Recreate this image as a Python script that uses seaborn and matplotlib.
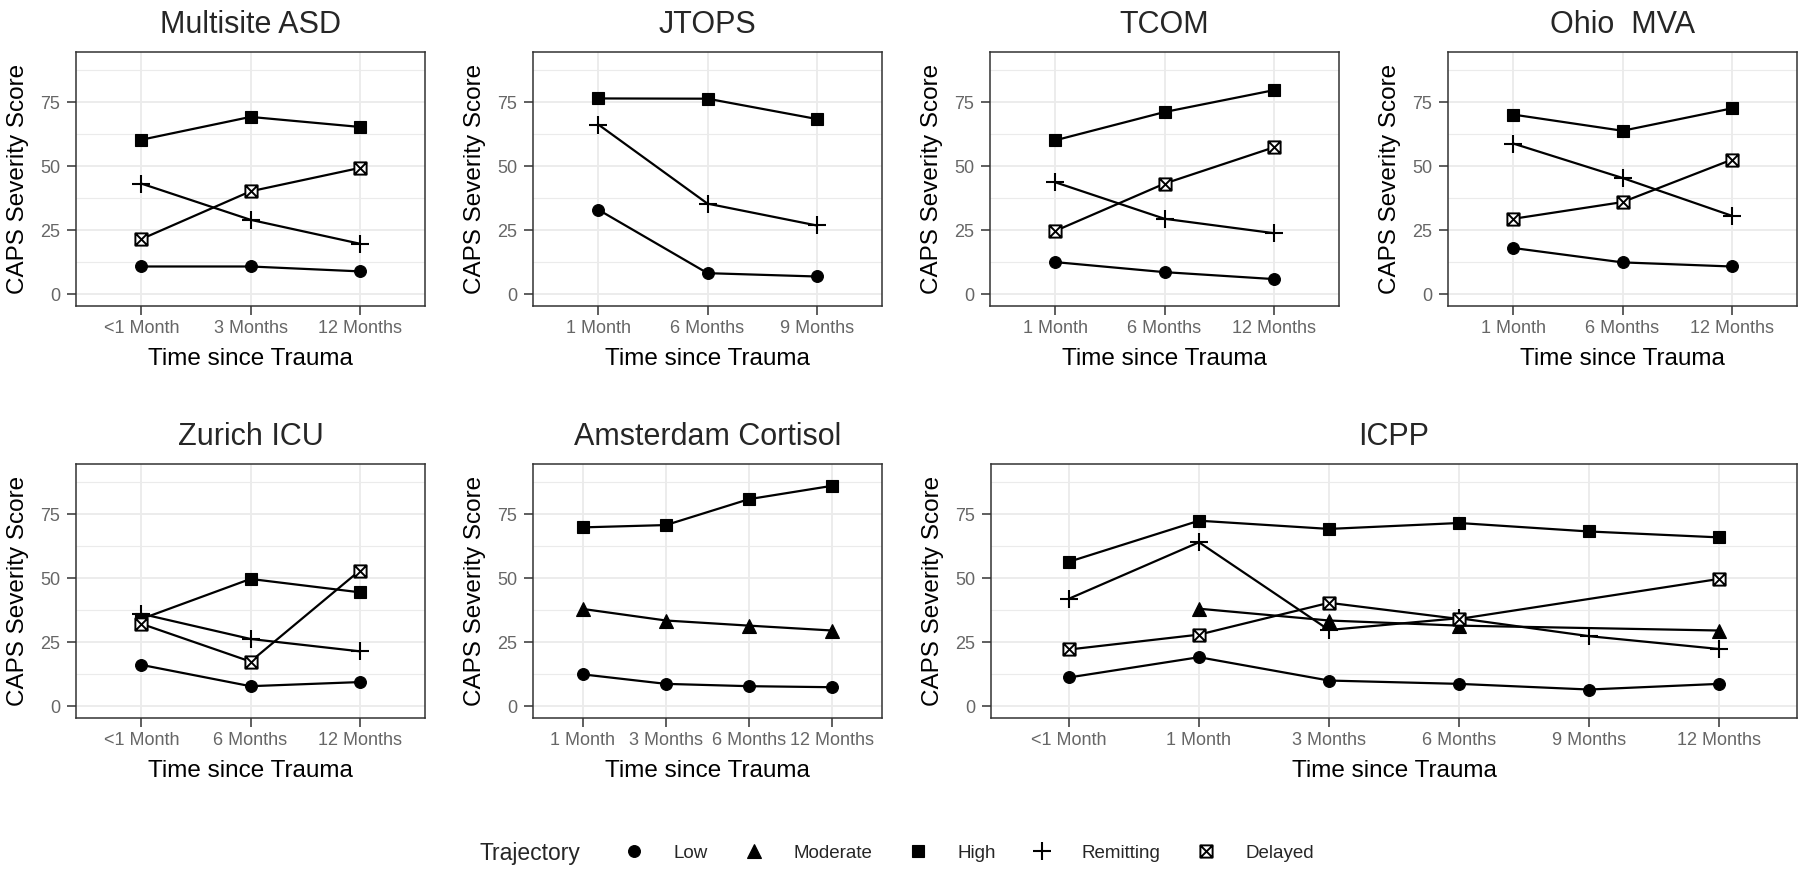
import numpy as np
import pandas as pd
import matplotlib.pyplot as plt
from matplotlib.path import Path
from matplotlib.lines import Line2D
import seaborn as sns

nan = np.nan
trajectories = ["Low", "Moderate", "High", "Remitting", "Delayed"]

# Multisite ASD
asd_times = ["<1 Month", "3 Months", "12 Months"]
asd_low = [10.9, 10.9, 9.0]
asd_high = [60.3, 69.2, 65.3]
asd_remit = [43.2, 29.1, 19.8]
asd_delayed = [21.6, 40.2, 49.3]

# JTOPS
jtops_times = ["1 Month", "6 Months", "9 Months"]
jtops_low = [33.0, 8.3, 7.0]
jtops_high = [76.4, 76.3, 68.4]
jtops_remit = [66.2, 35.4, 26.9]

# TCOM
tcom_times = ["1 Month", "6 Months", "12 Months"]
tcom_low = [12.6, 8.7, 6.0]
tcom_high = [60.1, 71.1, 79.6]
tcom_remit = [43.7, 29.5, 23.9]
tcom_delayed = [24.8, 43.2, 57.3]

# Ohio MVA
ohio_times = ["1 Month", "6 Months", "12 Months"]
ohio_low = [18.1, 12.5, 10.9]
ohio_high = [70.1, 63.8, 72.5]
ohio_remit = [58.8, 45.4, 30.7]
ohio_delayed = [29.5, 36.0, 52.5]

# Zurich ICU
zurich_times = ["<1 Month", "6 Months", "12 Months"]
zurich_low = [16.2, 7.9, 9.5]
zurich_high = [34.1, 49.7, 44.5]
zurich_remit = [36.1, 26.3, 21.5]
zurich_delayed = [32.2, 17.5, 52.9]

# Amsterdam Cortisol
ams_times = ["1 Month", "3 Months", "6 Months", "12 Months"]
ams_low = [12.5, 8.8, 7.9, 7.5]
ams_moderate = [38.0, 33.5, 31.5, 29.6]
ams_high = [69.8, 70.7, 80.8, 86.0]

# ICPP
icpp_times = ["<1 Month", "1 Month", "3 Months", "6 Months", "9 Months", "12 Months"]
icpp_low = [11.3, 19.2, 10.1, 8.8, 6.6, 8.8]
icpp_moderate = [nan, 38.1, 33.5, 31.5, nan, 29.6]
icpp_high = [56.4, 72.4, 69.2, 71.5, 68.2, 65.9]
icpp_remit = [42.0, 64.0, 29.8, 34.4, 27.4, 22.4]
icpp_delayed = [22.2, 28.0, 40.4, 34.1, nan, 49.7]

studies = [
    ("Multisite ASD", asd_times, {"Low": asd_low, "High": asd_high, "Remitting": asd_remit, "Delayed": asd_delayed}),
    ("JTOPS", jtops_times, {"Low": jtops_low, "High": jtops_high, "Remitting": jtops_remit}),
    ("TCOM", tcom_times, {"Low": tcom_low, "High": tcom_high, "Remitting": tcom_remit, "Delayed": tcom_delayed}),
    ("Ohio  MVA", ohio_times, {"Low": ohio_low, "High": ohio_high, "Remitting": ohio_remit, "Delayed": ohio_delayed}),
    ("Zurich ICU", zurich_times, {"Low": zurich_low, "High": zurich_high, "Remitting": zurich_remit, "Delayed": zurich_delayed}),
    ("Amsterdam Cortisol", ams_times, {"Low": ams_low, "Moderate": ams_moderate, "High": ams_high}),
    ("ICPP", icpp_times, {"Low": icpp_low, "Moderate": icpp_moderate, "High": icpp_high,
                          "Remitting": icpp_remit, "Delayed": icpp_delayed}),
]

sns.set_style("whitegrid")
plt.rcParams["font.family"] = ["Liberation Sans", "DejaVu Sans"]

# square with an X inside (ggplot shape 7)
box_x = Path([(-1, -1), (1, -1), (1, 1), (-1, 1), (-1, -1), (-1, -1), (1, 1), (-1, 1), (1, -1)],
             [Path.MOVETO, Path.LINETO, Path.LINETO, Path.LINETO, Path.CLOSEPOLY,
              Path.MOVETO, Path.LINETO, Path.MOVETO, Path.LINETO])

marker_style = {
    "Low": dict(marker="o", markersize=8.5, markerfacecolor="black", markeredgecolor="black", markeredgewidth=0.8),
    "Moderate": dict(marker="^", markersize=9.5, markerfacecolor="black", markeredgecolor="black", markeredgewidth=0.8),
    "High": dict(marker="s", markersize=8.7, markerfacecolor="black", markeredgecolor="black", markeredgewidth=0.8),
    "Remitting": dict(marker="+", markersize=12.5, markerfacecolor="black", markeredgecolor="black", markeredgewidth=1.5),
    "Delayed": dict(marker=box_x, markersize=8.8, markerfacecolor="white", markeredgecolor="black", markeredgewidth=1.4),
}

fig = plt.figure(figsize=(18, 8.71), dpi=100)

W = 349 / 1800
H = 254 / 871
positions = [
    (76 / 1800, 1 - 306 / 871, W, H),
    (533 / 1800, 1 - 306 / 871, W, H),
    (990 / 1800, 1 - 306 / 871, W, H),
    (1448 / 1800, 1 - 306 / 871, W, H),
    (76 / 1800, 1 - 718 / 871, W, H),
    (533 / 1800, 1 - 718 / 871, W, H),
    (991 / 1800, 1 - 718 / 871, 806 / 1800, H),
]

for (title, times, series), pos in zip(studies, positions):
    ax = fig.add_axes(pos)
    rows = []
    for traj, vals in series.items():
        for i, v in enumerate(vals):
            rows.append({"pos": i, "score": v, "Trajectory": traj})
    df = pd.DataFrame(rows).dropna()
    for traj in trajectories:
        sub = df[df["Trajectory"] == traj]
        if len(sub) == 0:
            continue
        sns.lineplot(data=sub, x="pos", y="score", color="black", linewidth=1.6,
                     errorbar=None, ax=ax, **marker_style[traj])

    ax.set_xlim(-0.6, len(times) - 1 + 0.6)
    ax.set_ylim(-4.5, 94.5)
    ax.set_xticks(range(len(times)))
    ax.set_xticklabels(times)
    ax.set_yticks([0, 25, 50, 75])
    ax.set_yticks([12.5, 37.5, 62.5, 87.5], minor=True)
    ax.set_axisbelow(True)
    ax.grid(which="major", color="#EBEBEB", linewidth=1.3)
    ax.grid(which="minor", axis="y", color="#EBEBEB", linewidth=0.8)
    for s in ax.spines.values():
        s.set_color("#333333")
        s.set_linewidth(1.1)
    ax.tick_params(which="major", length=6.5, width=1.1, color="#333333",
                   labelcolor="#666666", labelsize=13, bottom=True, left=True)
    ax.tick_params(axis="x", pad=3.5)
    ax.tick_params(axis="y", pad=5)
    ax.tick_params(which="minor", length=0)
    ax.set_xlabel("Time since Trauma", fontsize=17.5, labelpad=8, color="black")
    ax.set_ylabel("CAPS Severity Score", fontsize=17.5, labelpad=8, color="black")
    ax.set_title(title, fontsize=22, pad=14)

# legend
handles = []
for traj in trajectories:
    st = dict(marker_style[traj])
    handles.append(Line2D([], [], linestyle="none", color="black", **st))
fig.text(480 / 1800, 1 - 853 / 871, "Trajectory", fontsize=16.5, ha="left", va="center")
fig.legend(handles, trajectories, loc="center left", bbox_to_anchor=(619 / 1800, 1 - 853 / 871),
           ncol=5, frameon=False, fontsize=13.5, handlelength=1.6, handletextpad=1.33,
           columnspacing=1.62, borderpad=0, borderaxespad=0)

fig.savefig("out.png", dpi=100)
